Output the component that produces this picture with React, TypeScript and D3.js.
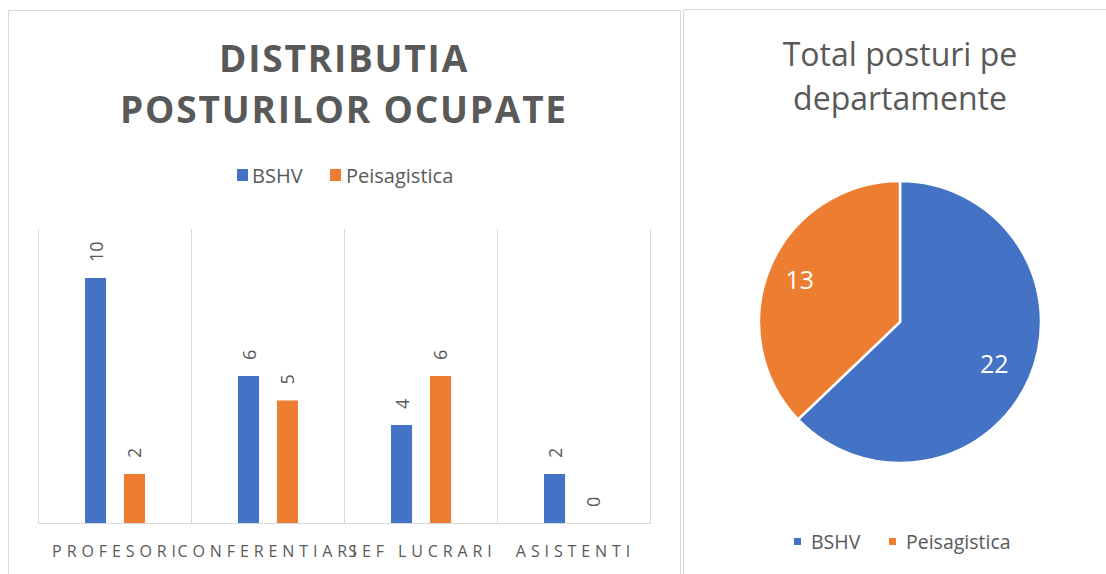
import React from 'react'
import * as d3 from 'd3';

const W = 1106;
const H = 574;

const categories = ['Profesori', 'Conferentiari', 'Sef lucrari', 'Asistenti'];
const series = ['BSHV', 'Peisagistica'];
const bshv = [10, 6, 4, 2];
const peisagistica = [2, 5, 6, 0];
const pieLabels = ['BSHV', 'Peisagistica'];
const pieValues = [22, 13];

const colors = ['#4472c4', '#ed7d31'];
const TEXT = '#595959';
const FONT = "'Open Sans', sans-serif";

const App = () => {
  // bar chart scales
  const x0 = d3.scaleBand().domain(categories).range([38, 650]);
  const x1 = d3.scaleBand().domain(series).range([47, 107]).paddingInner(0.46);
  const y = d3.scaleLinear().domain([0, 12]).range([523, 229]);
  const values = [bshv, peisagistica];

  // pie
  const cx = 900, cy = 322, r = 141;
  const pie = d3.pie<number>().sort(null).value(d => d)(pieValues);
  const arc = d3.arc<d3.PieArcDatum<number>>().innerRadius(0).outerRadius(r);
  const labelArc = d3.arc<d3.PieArcDatum<number>>().innerRadius(r * 0.75).outerRadius(r * 0.75);

  return (
    <svg width={W} height={H} style={{ position: 'absolute', left: 0, top: 0, background: '#fff' }}>
      <rect x={8.5} y={10.5} width={672} height={580} fill="none" stroke="#d9d9d9" />
      <rect x={683.5} y={9.5} width={440} height={580} fill="none" stroke="#d9d9d9" />

      {/* bar chart title */}
      <g fill={TEXT} fontFamily={FONT} fontWeight="bold" fontSize={37} textAnchor="middle" letterSpacing={1.8}>
        <text x={344} y={72}>DISTRIBUTIA</text>
        <text x={344} y={123}>POSTURILOR OCUPATE</text>
      </g>

      {/* bar legend */}
      <g fontFamily={FONT} fontSize={20} fill={TEXT}>
        <rect x={237} y={169} width={11} height={12} fill={colors[0]} />
        <text x={252} y={183}>BSHV</text>
        <rect x={330} y={169} width={11} height={12} fill={colors[1]} />
        <text x={346} y={183}>Peisagistica</text>
      </g>

      {/* grid */}
      <g stroke="#d9d9d9" strokeWidth={1}>
        {categories.map(c => (
          <line key={c} x1={x0(c)! + 0.5} x2={x0(c)! + 0.5} y1={y(12)} y2={y(0)} />
        ))}
        <line x1={650.5} x2={650.5} y1={y(12)} y2={y(0)} />
        <line x1={38} x2={651} y1={y(0) + 0.5} y2={y(0) + 0.5} />
      </g>

      {/* bars */}
      {categories.map((c, i) => (
        <g key={c} transform={`translate(${x0(c)},0)`}>
          {series.map((s, j) => {
            const v = values[j][i];
            const bx = x1(s)!;
            const bw = x1.bandwidth();
            return (
              <g key={s}>
                {v > 0 && <rect x={bx} y={y(v)} width={bw} height={y(0) - y(v)} fill={colors[j]} />}
                <text
                  transform={`translate(${bx + bw / 2 + 7},${y(v) - 16}) rotate(-90)`}
                  fontFamily={FONT} fontSize={18} fill={TEXT}
                >{v}</text>
              </g>
            );
          })}
        </g>
      ))}

      {/* category labels */}
      <g fontFamily={FONT} fontSize={16} fill={TEXT} textAnchor="middle" letterSpacing={4.9}>
        {categories.map(c => (
          <text key={c} x={x0(c)! + x0.bandwidth() / 2 + 2} y={557}>{c.toUpperCase()}</text>
        ))}
      </g>

      {/* pie title */}
      <g fill={TEXT} fontFamily={FONT} fontSize={32} textAnchor="middle">
        <text x={900} y={66}>Total posturi pe</text>
        <text x={900} y={110}>departamente</text>
      </g>

      {/* pie */}
      <g transform={`translate(${cx},${cy})`}>
        {pie.map((d, i) => (
          <path key={i} d={arc(d)!} fill={colors[i]} stroke="#fff" strokeWidth={2.5} />
        ))}
      </g>
      <g fontFamily={FONT} fontSize={25} fill="#fff" textAnchor="middle">
        {pie.map((d, i) => {
          const [lx, ly] = labelArc.centroid(d);
          return <text key={i} x={cx + lx - 3} y={cy + ly + 9}>{d.data}</text>;
        })}
      </g>

      {/* pie legend */}
      <g fontFamily={FONT} fontSize={19.5} fill={TEXT}>
        {pieLabels.map((l, i) => {
          const lx = i === 0 ? 794 : 889;
          return (
            <g key={l}>
              <rect x={lx} y={538} width={7} height={7} fill={colors[i]} />
              <text x={lx + 17} y={549}>{l}</text>
            </g>
          );
        })}
      </g>
    </svg>
  );
}

export default App;
